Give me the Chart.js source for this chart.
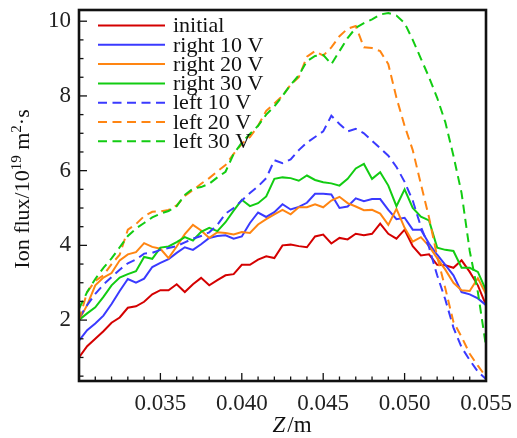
<!DOCTYPE html>
<html>
<head>
<meta charset="utf-8">
<script src="https://cdn.jsdelivr.net/npm/chart.js@4"></script>
<style>
  html, body { margin: 0; padding: 0; background: #fff; }
</style>
</head>
<body>
<canvas id="fluxChart" width="517" height="438"></canvas>
<script>
// axial position Z (m)
const zPos = [0.0300, 0.0305, 0.0310, 0.0315, 0.0320, 0.0325, 0.0330, 0.0335, 0.0340, 0.0345,
  0.0350, 0.0355, 0.0360, 0.0365, 0.0370, 0.0375, 0.0380, 0.0385, 0.0390, 0.0395,
  0.0400, 0.0405, 0.0410, 0.0415, 0.0420, 0.0425, 0.0430, 0.0435, 0.0440, 0.0445,
  0.0450, 0.0455, 0.0460, 0.0465, 0.0470, 0.0475, 0.0480, 0.0485, 0.0490, 0.0495,
  0.0500, 0.0505, 0.0510, 0.0515, 0.0520, 0.0525, 0.0530, 0.0535, 0.0540, 0.0545,
  0.0550];

// ion flux, 10^19 m^-2 s^-1
const initial = [1.0, 1.3, 1.5, 1.7, 1.93, 2.07, 2.33, 2.37, 2.49, 2.69,
  2.8, 2.8, 2.96, 2.75, 2.96, 3.13, 2.93, 3.07, 3.2, 3.23,
  3.48, 3.48, 3.62, 3.71, 3.66, 4.0, 4.02, 3.98, 3.95, 4.24,
  4.29, 4.05, 4.2, 4.16, 4.31, 4.27, 4.31, 4.58, 4.31, 4.18,
  4.42, 3.98, 3.73, 3.76, 3.48, 3.47, 3.4, 3.6, 3.29, 2.93,
  2.4];
const right10 = [1.45, 1.73, 1.91, 2.12, 2.43, 2.78, 3.1, 3.0, 3.11, 3.42,
  3.53, 3.63, 3.8, 3.95, 3.88, 4.03, 4.2, 4.25, 4.27, 4.18,
  4.24, 4.6, 4.88, 4.76, 4.89, 5.1, 4.96, 5.03, 5.14, 5.38,
  5.38, 5.36, 5.0, 5.04, 5.26, 5.18, 5.24, 5.24, 4.95, 4.7,
  4.74, 4.42, 4.42, 4.05, 3.75, 3.48, 3.2, 2.75, 2.69, 2.58,
  2.4];
const right20 = [2.0, 2.4, 2.93, 3.14, 3.26, 3.6, 3.76, 3.82, 4.06, 3.96,
  3.91, 3.66, 3.97, 4.3, 4.55, 4.4, 4.2, 4.35, 4.33, 4.29,
  4.36, 4.33, 4.56, 4.7, 4.83, 4.95, 4.83, 5.02, 5.02, 5.1,
  5.02, 5.2, 5.3, 5.13, 5.04, 4.94, 4.95, 4.85, 4.55, 4.98,
  4.47, 4.1, 4.22, 3.98, 3.66, 3.35, 3.0, 2.8, 2.78, 3.12,
  2.7];
const right30 = [2.0, 2.18, 2.34, 2.62, 2.93, 3.14, 3.23, 3.31, 3.69, 3.64,
  3.94, 3.97, 4.09, 4.22, 4.13, 4.36, 4.47, 4.38, 4.62, 4.93,
  5.22, 5.05, 5.13, 5.31, 5.78, 5.82, 5.8, 5.73, 5.87, 5.75,
  5.69, 5.66, 5.6, 5.78, 6.06, 6.18, 5.78, 5.96, 5.6, 5.05,
  5.5, 5.0, 4.77, 4.67, 3.94, 3.88, 3.85, 3.4, 3.4, 3.29,
  2.8];
const left10 = [2.05, 2.4, 2.7, 2.95, 3.15, 3.35, 3.52, 3.62, 3.78, 3.8,
  3.88, 3.93, 3.98, 4.08, 4.18, 4.25, 4.35, 4.55, 4.85, 5.0,
  5.2, 5.4, 5.58, 5.8, 6.28, 6.2, 6.3, 6.55, 6.75, 6.9,
  7.05, 7.47, 7.25, 7.05, 7.12, 7.0, 6.8, 6.6, 6.4, 6.1,
  5.7, 5.2, 4.5, 3.95, 3.2, 2.55, 1.8, 1.27, 0.93, 0.62,
  0.42];
const left20 = [2.0, 2.75, 3.05, 3.2, 3.5, 3.75, 4.42, 4.57, 4.78, 4.9,
  4.91, 4.95, 5.07, 5.32, 5.48, 5.65, 5.8, 5.98, 6.15, 6.45,
  6.72, 6.9, 7.2, 7.6, 7.8, 8.0, 8.3, 8.5, 9.05, 9.2,
  9.08, 9.3, 9.6, 9.8, 9.87, 9.3, 9.28, 9.2, 8.85, 7.95,
  7.2, 6.55, 5.64, 4.75, 3.7, 2.85, 1.95, 1.55, 1.1, 0.78,
  0.48];
const left30 = [2.3, 2.75, 3.1, 3.4, 3.65, 3.95, 4.25, 4.45, 4.6, 4.75,
  4.85, 4.92, 5.05, 5.35, 5.52, 5.56, 5.65, 5.82, 5.97, 6.45,
  6.75, 6.98, 7.2, 7.5, 7.72, 8.0, 8.3, 8.55, 8.93, 9.07,
  9.1, 8.85, 9.2, 9.55, 9.82, 9.95, 10.05, 10.18, 10.22, 10.15,
  9.95, 9.5, 9.0, 8.5, 7.95, 7.3, 6.4, 5.4, 3.85, 2.75,
  1.3];

const xTicks = [0.035, 0.040, 0.045, 0.050, 0.055];
const yTicks = [2, 4, 6, 8, 10];

const RED = "#d40000", BLUE = "#3a3aff", ORANGE = "#ff8512", GREEN = "#12cc12";
const DASH = [9, 5.5];
const serif = '"Liberation Serif", "DejaVu Serif", serif';

const series = [
  { label: "initial", data: initial, color: RED, dash: [] },
  { label: "right 10 V", data: right10, color: BLUE, dash: [] },
  { label: "right 20 V", data: right20, color: ORANGE, dash: [] },
  { label: "right 30 V", data: right30, color: GREEN, dash: [] },
  { label: "left 10 V", data: left10, color: BLUE, dash: DASH },
  { label: "left 20 V", data: left20, color: ORANGE, dash: DASH },
  { label: "left 30 V", data: left30, color: GREEN, dash: DASH }
];

// frame, inward ticks, legend and axis titles
const decorations = {
  id: "decorations",
  afterDraw(chart) {
    const { ctx, chartArea: a, scales: { x, y } } = chart;
    ctx.save();

    ctx.strokeStyle = "#111";
    ctx.lineWidth = 1.3;
    for (let k = 31; k <= 55; k++) {
      const px = x.getPixelForValue(k / 1000);
      const len = k % 5 === 0 ? 8 : 4.5;
      ctx.beginPath();
      ctx.moveTo(px, a.bottom);
      ctx.lineTo(px, a.bottom - len);
      ctx.stroke();
    }
    for (let k = 1; k <= 20; k++) {
      const py = y.getPixelForValue(k / 2);
      const len = k % 4 === 0 ? 8 : 4.5;
      ctx.beginPath();
      ctx.moveTo(a.left, py);
      ctx.lineTo(a.left + len, py);
      ctx.stroke();
    }
    ctx.lineWidth = 2.6;
    ctx.strokeRect(a.left, a.top, a.right - a.left, a.bottom - a.top);

    // legend
    const lx = a.left + 19, ly = a.top + 15.5, step = 19.3;
    ctx.font = "22px " + serif;
    ctx.textBaseline = "middle";
    ctx.textAlign = "left";
    series.forEach((s, i) => {
      const yy = ly + i * step;
      ctx.strokeStyle = s.color;
      ctx.lineWidth = 2;
      ctx.setLineDash(s.dash);
      ctx.beginPath();
      ctx.moveTo(lx, yy);
      ctx.lineTo(lx + 67, yy);
      ctx.stroke();
      ctx.setLineDash([]);
      ctx.fillStyle = "#111";
      ctx.fillText(s.label, lx + 75, yy + 1);
    });

    // x title: Z/m
    ctx.fillStyle = "#111";
    ctx.textBaseline = "alphabetic";
    ctx.font = "italic 23px " + serif;
    const zW = ctx.measureText("Z").width + 2;
    ctx.font = "23px " + serif;
    const mW = ctx.measureText("/m").width;
    const xs = 292 - (zW + mW) / 2;
    ctx.font = "italic 23px " + serif;
    ctx.fillText("Z", xs, 432);
    ctx.font = "23px " + serif;
    ctx.fillText("/m", xs + zW, 432);

    // y title
    const parts = [
      { t: "Ion flux/10", sup: false },
      { t: "19", sup: true },
      { t: " m", sup: false },
      { t: "2", sup: true },
      { t: "\u00b7s", sup: false }
    ];
    let total = 0;
    parts.forEach(p => {
      ctx.font = (p.sup ? "15px " : "22px ") + serif;
      p.w = ctx.measureText(p.t).width;
      total += p.w;
    });
    ctx.translate(29, 189);
    ctx.rotate(-Math.PI / 2);
    let cx = -total / 2;
    parts.forEach(p => {
      ctx.font = (p.sup ? "15px " : "22px ") + serif;
      ctx.fillText(p.t, cx, p.sup ? -8 : 0);
      cx += p.w;
    });

    ctx.restore();
  }
};

const ctx = document.getElementById("fluxChart").getContext("2d");
new Chart(ctx, {
  type: "line",
  data: {
    datasets: series.map((s, i) => ({
      label: s.label,
      data: zPos.map((z, j) => ({ x: z, y: s.data[j] })),
      borderColor: s.color,
      borderDash: s.dash,
      borderWidth: 2,
      pointRadius: 0,
      tension: 0,
      fill: false,
      order: series.length - i
    }))
  },
  options: {
    responsive: false,
    animation: false,
    devicePixelRatio: 1,
    layout: { padding: { top: 10, right: 31, left: 0, bottom: 0 } },
    plugins: {
      legend: { display: false },
      tooltip: { enabled: false }
    },
    scales: {
      x: {
        type: "linear",
        min: 0.030,
        max: 0.055,
        grid: { display: false, drawTicks: false },
        border: { display: false },
        afterBuildTicks: scale => { scale.ticks = xTicks.map(v => ({ value: v })); },
        afterFit: scale => {
          scale.height = 57;
          scale.paddingLeft = 0;
          scale.paddingRight = 0;
        },
        ticks: {
          padding: 9,
          color: "#222",
          maxRotation: 0,
          font: { family: serif, size: 23 },
          callback: v => v.toFixed(3)
        }
      },
      y: {
        min: 0.37,
        max: 10.3,
        grid: { display: false, drawTicks: false },
        border: { display: false },
        afterBuildTicks: scale => { scale.ticks = yTicks.map(v => ({ value: v })); },
        afterFit: scale => {
          scale.width = 79;
          scale.paddingTop = 0;
          scale.paddingBottom = 0;
        },
        ticks: {
          padding: 8,
          color: "#222",
          font: { family: serif, size: 23 }
        }
      }
    }
  },
  plugins: [decorations]
});
</script>
</body>
</html>
